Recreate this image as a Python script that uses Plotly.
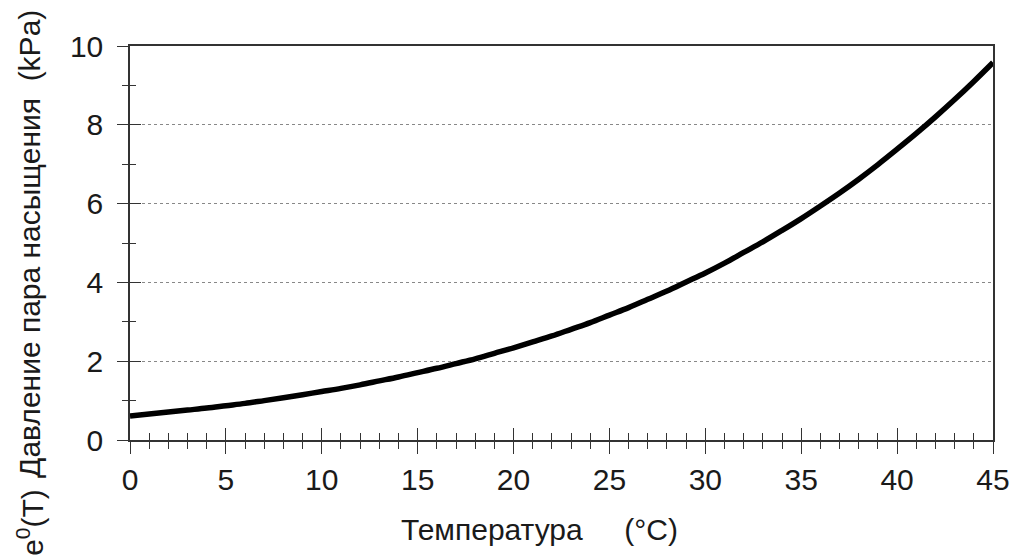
import plotly.graph_objects as go

temps = list(range(0, 46))
pressure = [0.61, 0.66, 0.71, 0.76, 0.81, 0.87, 0.93, 1.00, 1.07, 1.15,
            1.23, 1.31, 1.40, 1.50, 1.60, 1.71, 1.82, 1.94, 2.06, 2.20,
            2.34, 2.49, 2.64, 2.81, 2.98, 3.17, 3.36, 3.57, 3.78, 4.01,
            4.24, 4.49, 4.76, 5.03, 5.32, 5.62, 5.94, 6.27, 6.62, 6.99,
            7.38, 7.78, 8.20, 8.64, 9.10, 9.58]
x_ticks = [0, 5, 10, 15, 20, 25, 30, 35, 40, 45]
y_ticks = [0, 2, 4, 6, 8, 10]

FONT = "Liberation Sans, Arial, sans-serif"
TXT = "#1a1a1a"

fig = go.Figure()
fig.add_trace(go.Scatter(x=temps, y=pressure, mode="lines",
                         line=dict(color="black", width=5.5, shape="spline"),
                         showlegend=False))
# dummy trace on overlay axes
fig.add_trace(go.Scatter(x=[None], y=[None], xaxis="x2", yaxis="y2", showlegend=False))

fig.update_layout(
    width=1016, height=556,
    margin=dict(l=130, r=23, t=46, b=116, autoexpand=False),
    paper_bgcolor="white", plot_bgcolor="white",
    font=dict(family=FONT, size=30, color=TXT),
    xaxis=dict(range=[0, 45], tickvals=x_ticks, ticks="outside", ticklen=12,
               tickwidth=1.3, tickcolor="#333", showline=True, linecolor="#333",
               linewidth=1.5, mirror=True, showgrid=False, zeroline=False,
               automargin=False,
               tickfont=dict(size=30, family=FONT, color=TXT),
               minor=dict(ticks="outside", dtick=1, ticklen=7, tickcolor="#333", tickwidth=1.2)),
    yaxis=dict(range=[0, 10], tickvals=y_ticks, ticks="outside", ticklen=11,
               tickwidth=1.3, tickcolor="#333", showline=True, linecolor="#333",
               linewidth=1.5, mirror=True, showgrid=True, gridcolor="#888",
               griddash="dot", gridwidth=1, zeroline=False,
               automargin=False, ticklabelstandoff=8,
               tickfont=dict(size=30, family=FONT, color=TXT),
               minor=dict(ticks="outside", dtick=1, ticklen=6, tickcolor="#333", tickwidth=1.2)),
    xaxis2=dict(range=[0, 45], overlaying="x", anchor="y", side="bottom",
                tickvals=x_ticks, ticks="inside", ticklen=12, tickwidth=1.3,
                tickcolor="#333", showticklabels=False, showgrid=False,
                zeroline=False, showline=False, automargin=False,
                minor=dict(ticks="inside", dtick=1, ticklen=7, tickcolor="#333", tickwidth=1.2)),
    yaxis2=dict(range=[0, 10], overlaying="y", anchor="x", side="left",
                tickvals=y_ticks, ticks="inside", ticklen=11, tickwidth=1.3,
                tickcolor="#333", showticklabels=False, showgrid=False,
                zeroline=False, showline=False, automargin=False,
                minor=dict(ticks="inside", dtick=1, ticklen=6, tickcolor="#333", tickwidth=1.2)),
    annotations=[
        dict(text="Давление пара насыщения  (kPa)", textangle=-90,
             xref="paper", yref="paper", x=-0.116, y=0.4975, xanchor="center", yanchor="middle",
             showarrow=False, font=dict(size=30, family=FONT, color=TXT)),
        dict(text="e<sup>0</sup>(T)", textangle=-90,
             xref="paper", yref="paper", x=-0.116, y=-0.208, xanchor="center", yanchor="middle",
             showarrow=False, font=dict(size=30, family=FONT, color=TXT)),
        dict(text="Температура     (°C)",
             xref="paper", yref="paper", x=0.475, y=-0.226, xanchor="center", yanchor="middle",
             showarrow=False, font=dict(size=30, family=FONT, color=TXT)),
    ],
)

fig.write_html("out.html")
